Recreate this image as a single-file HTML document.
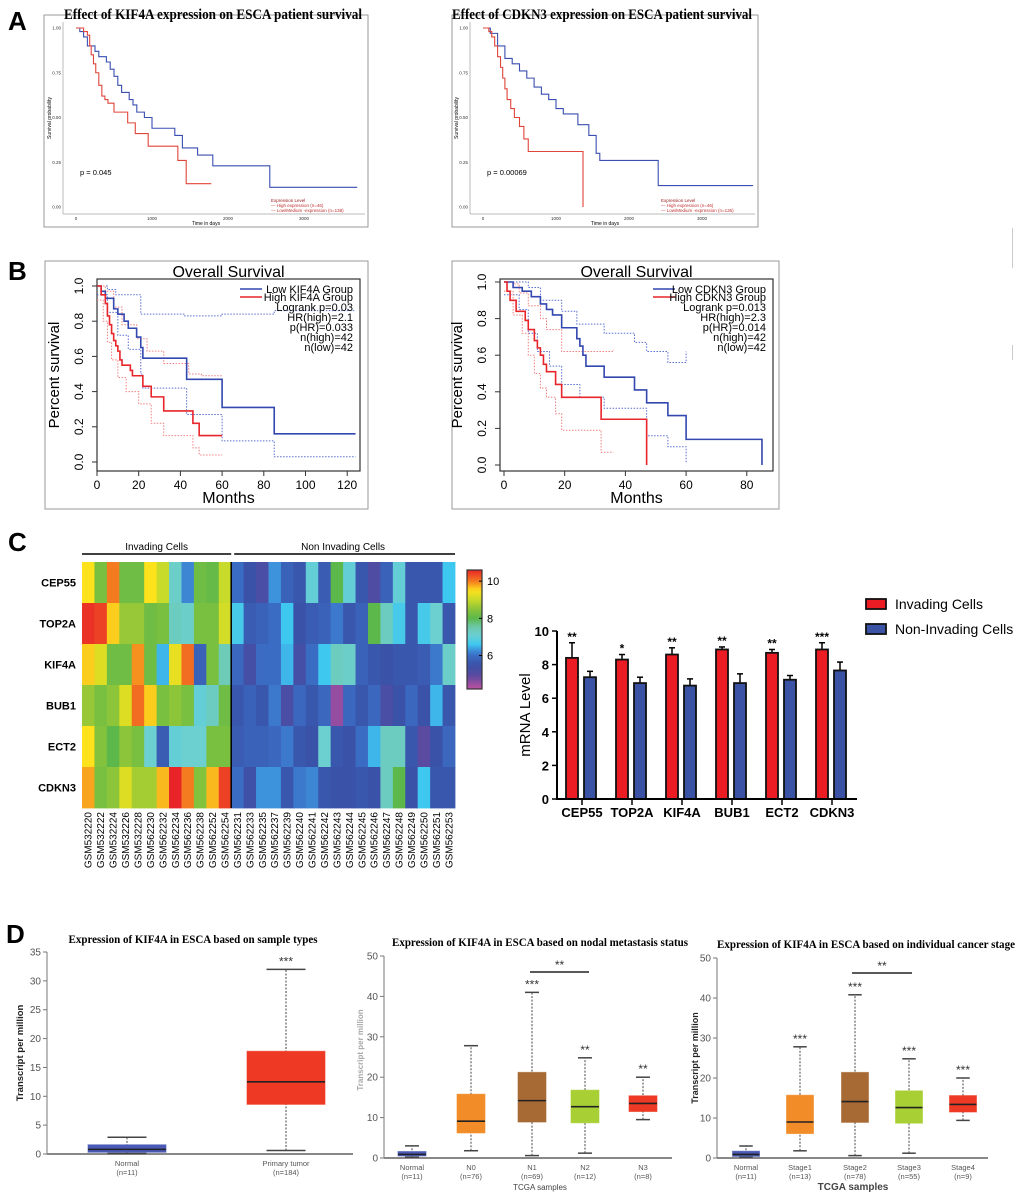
<!DOCTYPE html>
<html><head><meta charset="utf-8"><style>
html,body{margin:0;padding:0;background:#fff;}
svg{display:block;font-family:"Liberation Sans",sans-serif;}
</style></head><body>
<svg id="fig" width="1020" height="1198" viewBox="0 0 1020 1198" xmlns="http://www.w3.org/2000/svg">
<defs>
<linearGradient id="cbar" x1="0" y1="1" x2="0" y2="0"></linearGradient>
</defs>
<text x="8" y="30" font-size="26" font-weight="bold">A</text>
<text x="8" y="280" font-size="26" font-weight="bold">B</text>
<text x="8" y="551" font-size="26" font-weight="bold">C</text>
<text x="6" y="943" font-size="26" font-weight="bold">D</text>
<rect x="1012" y="228" width="1" height="40" fill="#ccc"/>
<rect x="1012" y="345" width="1" height="15" fill="#ccc"/>
</svg>
<script>
// ---------- DATA ----------
const aKifHigh=[[0,1],[100,.98],[150,.96],[180,.9],[200,.85],[230,.8],[260,.75],[300,.68],[340,.62],[380,.6],[420,.58],[500,.53],[680,.47],[780,.41],[950,.34],[1340,.26],[1450,.13],[1780,.13]];
const aKifLow=[[0,1],[50,.98],[100,.95],[150,.9],[250,.87],[300,.84],[400,.81],[450,.77],[500,.73],[550,.68],[600,.64],[700,.6],[750,.57],[800,.53],[900,.5],[1000,.44],[1300,.4],[1400,.33],[1600,.29],[1800,.23],[2550,.11],[3700,.11]];
const aCdkHigh=[[0,1],[80,.98],[120,.95],[160,.9],[200,.84],[240,.78],[270,.72],[300,.66],[330,.6],[380,.55],[430,.5],[500,.45],[560,.38],[620,.31],[1370,0]];
const aCdkLow=[[0,1],[100,.97],[200,.9],[300,.83],[400,.8],[500,.76],[600,.72],[700,.67],[800,.63],[900,.6],[1000,.55],[1100,.52],[1300,.46],[1450,.4],[1550,.3],[1600,.26],[2400,.12],[3700,.12]];
const aXTicks=[0,1000,2000,3000];
const aYTicks=[0,0.25,0.5,0.75,1];
const bKifLow=[[0,1],[2,.97],[4,.93],[8,.87],[10,.84],[13,.8],[15,.76],[19,.71],[21,.65],[22,.59],[43,.47],[60,.31],[85,.16],[124,.16]];
const bKifHigh=[[0,1],[2,.95],[4,.9],[5,.83],[6,.78],[7,.73],[8,.69],[9,.66],[10,.63],[11,.58],[12,.55],[16,.52],[17,.49],[22,.43],[26,.37],[32,.29],[46,.22],[49,.15],[60,.15]];
const bKifLowUp=[[0,1],[5,.98],[9,.95],[21,.84],[42,.83],[60,.84],[85,.86],[124,.86]];
const bKifLowLo=[[0,.95],[5,.85],[10,.72],[15,.64],[21,.5],[22,.42],[43,.27],[60,.12],[85,.03],[124,.03]];
const bKifHighUp=[[0,1],[4,.97],[8,.88],[12,.78],[19,.7],[24,.63],[32,.56],[44,.5],[50,.49],[60,.49]];
const bKifHighLo=[[0,.92],[3,.8],[5,.68],[7,.58],[10,.48],[14,.4],[20,.33],[26,.22],[32,.15],[46,.08],[49,.04],[60,.04]];
const bCdkLow=[[0,1],[3,.97],[6,.95],[9,.92],[12,.88],[14,.85],[16,.82],[19,.75],[24,.69],[25,.65],[26,.6],[27,.54],[33,.48],[43,.41],[47,.34],[54,.27],[60,.14],[85,0]];
const bCdkHigh=[[0,1],[1,.95],[2,.9],[4,.84],[7,.79],[8,.74],[10,.68],[11,.64],[12,.6],[13,.55],[14,.51],[17,.44],[19,.37],[32,.25],[47,0]];
const bCdkLowUp=[[0,1],[3,1],[8,.97],[12,.9],[19,.84],[24,.77],[33,.72],[43,.67],[47,.62],[54,.56],[60,.62]];
const bCdkLowLo=[[0,.93],[5,.85],[8,.72],[11,.62],[15,.54],[19,.44],[25,.37],[33,.31],[47,.16],[54,.1],[60,.01]];
const bCdkHighUp=[[0,1],[3,.99],[5,.94],[8,.87],[12,.8],[14,.74],[19,.62],[36,.63]];
const bCdkHighLo=[[0,.95],[3,.82],[6,.72],[8,.6],[10,.5],[12,.42],[14,.37],[17,.28],[19,.19],[32,.07],[36,.07]];
const bYTicks=[0,0.2,0.4,0.6,0.8,1.0];
const bXTicksKif=[0,20,40,60,80,100,120];
const bXTicksCdk=[0,20,40,60,80];
const hmGenes=["CEP55","TOP2A","KIF4A","BUB1","ECT2","CDKN3"];
const hmSamples=["GSM532220","GSM532222","GSM532224","GSM532226","GSM532228","GSM562230","GSM562232","GSM562234","GSM562236","GSM562238","GSM562252","GSM562254","GSM562231","GSM562233","GSM562235","GSM562237","GSM562239","GSM562240","GSM562241","GSM562242","GSM562243","GSM562244","GSM562245","GSM562246","GSM562247","GSM562248","GSM562249","GSM562250","GSM562251","GSM562253"];
const hmValues=[
[9.5,8.3,10,8.2,8.2,9.5,9,7.2,6.2,8.2,8.1,9,6.0,5.5,5.2,6.3,5.8,5.6,7.0,5.7,8.0,7.0,5.6,5.1,5.8,7.0,5.6,5.6,5.6,6.6],
[10.5,10.4,9.6,8.6,8.6,8.2,8.3,7.3,7.2,8.3,8.3,9.1,6.7,5.7,5.8,6.0,6.6,5.5,5.7,5.8,6.1,5.6,5.8,8.0,7.3,6.7,5.6,6.7,7.1,5.6],
[9.6,9.2,8.2,8.2,9.9,8.2,6.5,9.3,10.1,5.8,8.3,7.4,5.9,5.3,6.0,6.0,6.5,5.3,6.0,6.6,7.3,7.2,5.8,5.6,5.5,5.6,5.6,5.7,6.1,7.2],
[8.6,8.3,8.5,9.2,10.1,9.6,8.3,8.5,8.3,7.0,7.3,8.2,5.6,5.8,5.6,6.1,5.2,5.9,5.6,5.9,4.5,5.9,5.6,5.9,5.2,5.5,5.9,5.5,6.5,5.6],
[9.5,8.4,8.0,8.5,8.3,7.1,5.7,7.0,7.1,7.1,8.3,8.3,5.7,5.8,5.8,5.9,6.1,5.6,5.5,7.1,5.6,5.5,6.0,6.5,7.3,7.3,5.6,4.9,5.5,5.9],
[9.8,8.3,8.5,9.2,8.7,8.7,9.7,10.6,10.0,8.4,9.7,10.4,6.0,5.4,6.3,6.3,5.6,6.1,6.2,5.6,5.5,5.5,5.6,5.5,7.3,8.0,5.5,6.6,5.6,5.6]];
const hmInvadingCount=12;
const cbarTicks=[6,8,10];
const barGenes=["CEP55","TOP2A","KIF4A","BUB1","ECT2","CDKN3"];
const barInv=[8.4,8.3,8.6,8.9,8.7,8.9];
const barInvErr=[9.3,8.6,9.0,9.05,8.9,9.3];
const barNon=[7.25,6.9,6.75,6.9,7.1,7.65];
const barNonErr=[7.6,7.25,7.15,7.45,7.35,8.15];
const barStars=["**","*","**","**","**","***"];
const barYTicks=[0,2,4,6,8,10];
const d1Cats=["Normal","Primary tumor"];
const d1N=["(n=11)","(n=184)"];
const d1Stats=[[0.1,0.3,0.8,1.6,2.9],[0.6,8.6,12.5,17.8,32]];
const d1Stars=["","***"];
const d1Ticks=[0,5,10,15,20,25,30,35];
const d2Cats=["Normal","N0","N1","N2","N3"];
const d2N=["(n=11)","(n=76)","(n=69)","(n=12)","(n=8)"];
const d2Stats=[[0.2,0.5,0.9,1.6,3.0],[1.8,6.2,9.1,15.8,27.8],[0.6,8.9,14.2,21.2,41],[1.2,8.7,12.7,16.8,24.8],[9.5,11.5,13.5,15.4,20]];
const d2Stars=["","","***","**","**"];
const d3Cats=["Normal","Stage1","Stage2","Stage3","Stage4"];
const d3N=["(n=11)","(n=13)","(n=78)","(n=55)","(n=9)"];
const d3Stats=[[0.2,0.4,0.9,1.7,3.0],[1.8,6.1,9.0,15.7,27.8],[0.6,8.9,14.1,21.4,40.8],[1.2,8.7,12.6,16.8,24.8],[9.4,11.5,13.4,15.6,20]];
const d3Stars=["","***","***","***","***"];
const dTicks50=[0,10,20,30,40,50];

// ---------- HELPERS ----------
const NS='http://www.w3.org/2000/svg';
const svg=document.getElementById('fig');
function el(tag,attrs,name,parent){
  const e=document.createElementNS(NS,tag);
  for(const k in attrs)e.setAttribute(k,attrs[k]);
  
  
  (parent||svg).appendChild(e);return e;
}
function tx(x,y,s,attrs,name){const a=Object.assign({x:x,y:y},attrs||{});const e=el('text',a,name);e.textContent=s;return e;}
function line(x1,y1,x2,y2,attrs,name){return el('line',Object.assign({x1,y1,x2,y2},attrs),name);}
function lin(d0,d1,r0,r1){return v=>r0+(v-d0)*(r1-r0)/(d1-d0);}
function stepD(pts,sx,sy){let d='M'+sx(pts[0][0])+' '+sy(pts[0][1]);for(let i=1;i<pts.length;i++){d+=' H'+sx(pts[i][0])+' V'+sy(pts[i][1]);}return d;}

// ---------- PANEL A ----------
function panelA(cfg){
  el('rect',{x:cfg.bx,y:15,width:cfg.bw,height:212,fill:'none',stroke:'#999','stroke-width':1},'km-frame');
  tx(cfg.tc,19,cfg.title,{'font-family':'Liberation Serif, serif','font-size':15,'font-weight':'bold','text-anchor':'middle',textLength:cfg.tw,lengthAdjust:'spacingAndGlyphs'},'chart-title');
  const sx=lin(0,1000,cfg.x0,cfg.x0+cfg.k), sy=lin(0,1,207,28);
  line(cfg.ax,22,cfg.ax,214,{stroke:'#bbb'},'y-axis');
  line(cfg.ax,214,cfg.bx+cfg.bw-3,214,{stroke:'#bbb'},'x-axis');
  aYTicks.forEach(t=>{tx(cfg.ax-2,sy(t)+1.5,t.toFixed(2),{'font-size':4.5,'text-anchor':'end',fill:'#333'},'y-tick-label');});
  aXTicks.forEach(t=>{tx(sx(t),220,String(t),{'font-size':4.5,'text-anchor':'middle',fill:'#333'},'x-tick-label');});
  tx(cfg.bx+cfg.bw/2,225,'Time in days',{'font-size':5,'text-anchor':'middle'},'x-axis-title');
  tx(0,0,'Survival probability',{'font-size':5,'text-anchor':'middle',transform:`translate(${cfg.ax-12},118) rotate(-90)`},'y-axis-title');
  el('path',{d:stepD(cfg.low,sx,sy),fill:'none',stroke:'#3a4fb0','stroke-width':1.1},'low-expression-curve');
  el('path',{d:stepD(cfg.high,sx,sy),fill:'none',stroke:'#e0453a','stroke-width':1.1},'high-expression-curve');
  tx(cfg.ax+17,175,cfg.p,{'font-size':7.5},'p-value');
  const lx=cfg.bx+cfg.bw-97;
  tx(lx,202,'Expression Level',{'font-size':4.5,fill:'#a02020'},'legend-title');
  tx(lx,207,'— High expression (n=46)',{'font-size':4.5,fill:'#c03030'},'legend-entry-high');
  tx(lx,212,'— Low/Medium -expression (n='+cfg.nlow+')',{'font-size':4.5,fill:'#c03030'},'legend-entry-low');
}
panelA({bx:44,bw:324,ax:63,x0:76,k:76,tc:213,tw:298,title:'Effect of KIF4A expression on ESCA patient survival',low:aKifLow,high:aKifHigh,p:'p = 0.045',nlow:138});
panelA({bx:452,bw:306,ax:470,x0:483,k:73,tc:602,tw:300,title:'Effect of CDKN3 expression on ESCA patient survival',low:aCdkLow,high:aCdkHigh,p:'p = 0.00069',nlow:136});

// ---------- PANEL B ----------
function panelB(cfg){
  el('rect',{x:cfg.bx,y:261,width:cfg.bw,height:248,fill:'none',stroke:'#999','stroke-width':1},'km-outer-frame');
  el('rect',{x:cfg.px,y:279,width:cfg.pw,height:192,fill:'none',stroke:'#333','stroke-width':1.2},'plot-area');
  const sx=lin(0,20,cfg.x0,cfg.x0+cfg.k), sy=lin(0,1,cfg.y0,cfg.y1);
  tx(cfg.px+cfg.pw/2,277,'Overall Survival',{'font-size':16,'text-anchor':'middle'},'chart-title');
  bYTicks.forEach(t=>{
    line(cfg.px,sy(t),cfg.px-5,sy(t),{stroke:'#333'},'y-tick');
    tx(0,0,t.toFixed(1),{'font-size':12,'text-anchor':'middle',transform:`translate(${cfg.px-14},${sy(t)}) rotate(-90)`},'y-tick-label');
  });
  cfg.xt.forEach(t=>{
    line(sx(t),471,sx(t),476,{stroke:'#333'},'x-tick');
    tx(sx(t),489,String(t),{'font-size':12,'text-anchor':'middle'},'x-tick-label');
  });
  tx(cfg.px+cfg.pw/2,503,'Months',{'font-size':16,'text-anchor':'middle'},'x-axis-title');
  tx(0,0,'Percent survival',{'font-size':15,'text-anchor':'middle',transform:`translate(${cfg.px-38},375) rotate(-90)`},'y-axis-title');
  [[cfg.lowUp,'#5a6fd0','low-ci-upper'],[cfg.lowLo,'#5a6fd0','low-ci-lower'],[cfg.highUp,'#f08080','high-ci-upper'],[cfg.highLo,'#f08080','high-ci-lower']].forEach(c=>{
    el('path',{d:stepD(c[0],sx,sy),fill:'none',stroke:c[1],'stroke-width':1,'stroke-dasharray':'1.5,1.5'},c[2]);
  });
  el('path',{d:stepD(cfg.low,sx,sy),fill:'none',stroke:'#3347b0','stroke-width':1.6},'low-group-curve');
  el('path',{d:stepD(cfg.high,sx,sy),fill:'none',stroke:'#e8252a','stroke-width':1.6},'high-group-curve');
  const lx=cfg.px+cfg.pw-120, rx=cfg.px+cfg.pw-7;
  line(lx,289,lx+22,289,{stroke:'#3347b0','stroke-width':1.5},'legend-line-low');
  line(lx,297,lx+22,297,{stroke:'#e8252a','stroke-width':1.5},'legend-line-high');
  tx(rx,293,'Low '+cfg.g+' Group',{'font-size':11,'text-anchor':'end'},'legend-entry-low');
  tx(rx,301,'High '+cfg.g+' Group',{'font-size':11,'text-anchor':'end'},'legend-entry-high');
  cfg.stats.forEach((s,i)=>{tx(rx,311+i*10,s,{'font-size':11,'text-anchor':'end'},'stat-text');});
}
panelB({bx:45,bw:323,px:97,pw:263,x0:97,k:41.7,y0:462,y1:286,xt:bXTicksKif,g:'KIF4A',low:bKifLow,high:bKifHigh,lowUp:bKifLowUp,lowLo:bKifLowLo,highUp:bKifHighUp,highLo:bKifHighLo,stats:['Logrank p=0.03','HR(high)=2.1','p(HR)=0.033','n(high)=42','n(low)=42']});
panelB({bx:452,bw:327,px:500,pw:273,x0:504,k:60.7,y0:465,y1:282,xt:bXTicksCdk,g:'CDKN3',low:bCdkLow,high:bCdkHigh,lowUp:bCdkLowUp,lowLo:bCdkLowLo,highUp:bCdkHighUp,highLo:bCdkHighLo,stats:['Logrank p=0.013','HR(high)=2.3','p(HR)=0.014','n(high)=42','n(low)=42']});

// ---------- PANEL C HEATMAP ----------
const cmap=[[4.2,[192,80,160]],[4.9,[90,74,160]],[5.5,[58,82,168]],[6.0,[59,108,196]],[6.3,[61,147,220]],[6.6,[62,200,240]],[7.1,[108,207,208]],[7.5,[109,201,176]],[8.0,[92,184,74]],[8.5,[140,196,58]],[9.0,[200,218,42]],[9.5,[253,226,28]],[10.0,[244,123,32]],[10.6,[232,36,40]]];
function color(v){
  if(v<=cmap[0][0])return 'rgb('+cmap[0][1]+')';
  for(let i=1;i<cmap.length;i++){if(v<=cmap[i][0]){const a=cmap[i-1],b=cmap[i],t=(v-a[0])/(b[0]-a[0]);return 'rgb('+a[1].map((c,j)=>Math.round(c+(b[1][j]-c)*t)).join(',')+')';}}
  return 'rgb('+cmap[cmap.length-1][1]+')';
}
const hmX0=82,hmY0=562,cw=373/hmSamples.length,ch=41;
hmValues.forEach((row,r)=>{
  tx(76,hmY0+r*ch+ch/2+4,hmGenes[r],{'font-size':11,'font-weight':'bold','text-anchor':'end'},'heatmap-row-label');
  row.forEach((v,c)=>{el('rect',{x:hmX0+c*cw,y:hmY0+r*ch,width:cw+0.4,height:ch+0.4,fill:color(v)},'heatmap-cell');});
});
hmSamples.forEach((s,c)=>{tx(0,0,s,{'font-size':10,'text-anchor':'end',transform:`translate(${hmX0+c*cw+cw/2+3.5},812) rotate(-90)`},'heatmap-column-label');});
const divX=hmX0+hmInvadingCount*cw;
line(divX,562,divX,808,{stroke:'#000','stroke-width':1.5},'group-divider');
line(hmX0,554,divX,554,{stroke:'#000','stroke-width':1.5},'invading-bracket');
line(divX+3,554,455,554,{stroke:'#000','stroke-width':1.5},'non-invading-bracket');
tx((hmX0+divX)/2,550,'Invading Cells',{'font-size':10,'text-anchor':'middle'},'invading-group-label');
tx((divX+455)/2,550,'Non Invading Cells',{'font-size':10,'text-anchor':'middle'},'non-invading-group-label');
const gr=document.getElementById('cbar');
for(let v=4.2;v<=10.61;v+=0.2){const st=document.createElementNS(NS,'stop');st.setAttribute('offset',((v-4.2)/6.4).toFixed(3));st.setAttribute('stop-color',color(v));gr.appendChild(st);}
const cby=lin(4.2,10.6,689,570);
el('rect',{x:467,y:570,width:15,height:119,fill:'url(#cbar)',stroke:'#333','stroke-width':1.2},'colorbar');
cbarTicks.forEach(t=>{line(479,cby(t),482,cby(t),{stroke:'#000'},'colorbar-tick');tx(487,cby(t)+4,String(t),{'font-size':11},'colorbar-tick-label');});

// ---------- PANEL C BARS ----------
const byS=lin(0,10,799,631);
const bandX=i=>557+50*(i+0.5);
barYTicks.forEach(t=>{line(552,byS(t),557,byS(t),{stroke:'#000','stroke-width':1.5},'y-tick');tx(549,byS(t)+5,String(t),{'font-size':13,'font-weight':'bold','text-anchor':'end'},'y-tick-label');});
tx(0,0,'mRNA Level',{'font-size':15,'text-anchor':'middle',transform:'translate(530,715) rotate(-90)'},'y-axis-title');
barGenes.forEach((g,i)=>{
  const c=bandX(i);
  line(c,799,c,805,{stroke:'#000','stroke-width':1.5},'x-tick');
  tx(c,817,g,{'font-size':13,'font-weight':'bold','text-anchor':'middle'},'x-tick-label');
  line(c-10,byS(barInv[i]),c-10,byS(barInvErr[i]),{stroke:'#000','stroke-width':1.5},'error-bar');
  line(c-13,byS(barInvErr[i]),c-7,byS(barInvErr[i]),{stroke:'#000','stroke-width':1.5},'error-cap');
  line(c+8,byS(barNon[i]),c+8,byS(barNonErr[i]),{stroke:'#000','stroke-width':1.5},'error-bar');
  line(c+5,byS(barNonErr[i]),c+11,byS(barNonErr[i]),{stroke:'#000','stroke-width':1.5},'error-cap');
  el('rect',{x:c-16,y:byS(barInv[i]),width:12,height:byS(0)-byS(barInv[i]),fill:'#ec1c24',stroke:'#111','stroke-width':1.8},'bar-invading-'+g.toLowerCase());
  el('rect',{x:c+2,y:byS(barNon[i]),width:12,height:byS(0)-byS(barNon[i]),fill:'#3a53a4',stroke:'#111','stroke-width':1.8},'bar-non-invading-'+g.toLowerCase());
  tx(c-10,byS(barInvErr[i])-2,barStars[i],{'font-size':12,'font-weight':'bold','text-anchor':'middle'},'significance-stars');
});
line(557,631,557,800,{stroke:'#000','stroke-width':2},'y-axis');
line(556,799,857,799,{stroke:'#000','stroke-width':2},'x-axis');
el('rect',{x:866,y:599,width:20,height:10,fill:'#ec1c24',stroke:'#111','stroke-width':1.8},'legend-swatch-invading');
el('rect',{x:866,y:624,width:20,height:10,fill:'#3a53a4',stroke:'#111','stroke-width':1.8},'legend-swatch-non-invading');
tx(895,609,'Invading Cells',{'font-size':14},'legend-entry-invading');
tx(895,634,'Non-Invading Cells',{'font-size':14},'legend-entry-non-invading');

// ---------- PANEL D ----------
const dColors=['#4a5ab5','#f28c28','#a86a34','#a8d035','#ee3a24'];
function boxPanel(cfg){
  const sy=lin(0,cfg.max,cfg.y0,cfg.ytop);
  tx(cfg.tc,cfg.ty,cfg.title,{'font-family':'Liberation Serif, serif','font-size':12,'font-weight':'bold','text-anchor':'middle',textLength:cfg.tw,lengthAdjust:'spacingAndGlyphs'},'chart-title');
  line(cfg.ax,cfg.ytop,cfg.ax,cfg.y0,{stroke:'#777','stroke-width':1},'y-axis');
  line(cfg.ax,cfg.y0,cfg.xend,cfg.y0,{stroke:'#888','stroke-width':2},'x-axis');
  cfg.ticks.forEach(t=>{line(cfg.ax-4,sy(t),cfg.ax,sy(t),{stroke:'#777'},'y-tick');tx(cfg.ax-6,sy(t)+3.5,String(t),{'font-size':10,'text-anchor':'end',fill:'#555'},'y-tick-label');});
  tx(0,0,'Transcript per million',{'font-size':cfg.yfs,'font-weight':'bold','text-anchor':'middle',fill:cfg.yfill,transform:`translate(${cfg.yx},${cfg.yc}) rotate(-90)`},'y-axis-title');
  cfg.stats.forEach((s,i)=>{
    const c=cfg.centers[i],w=cfg.bw,col=cfg.cols[i];
    line(c,sy(s[0]),c,sy(s[4]),{stroke:'#444','stroke-width':1,'stroke-dasharray':'2,1.5'},'whisker');
    line(c-w/4,sy(s[0]),c+w/4,sy(s[0]),{stroke:'#444','stroke-width':1.5},'whisker-cap-min');
    line(c-w/4,sy(s[4]),c+w/4,sy(s[4]),{stroke:'#444','stroke-width':1.5},'whisker-cap-max');
    el('rect',{x:c-w/2,y:sy(s[3]),width:w,height:sy(s[1])-sy(s[3]),fill:col,stroke:col,'stroke-opacity':0.6},'box-'+cfg.cats[i].toLowerCase().replace(' ','-'));
    line(c-w/2,sy(s[2]),c+w/2,sy(s[2]),{stroke:'#222','stroke-width':1.6},'median-line');
    if(cfg.stars[i])tx(c,sy(s[4])-4,cfg.stars[i],{'font-size':12,'text-anchor':'middle',fill:'#333'},'significance-stars');
    tx(c,cfg.y0+12,cfg.cats[i],{'font-size':7.5,'text-anchor':'middle',fill:'#555'},'x-tick-label');
    tx(c,cfg.y0+21,cfg.ns[i],{'font-size':7.5,'text-anchor':'middle',fill:'#555'},'x-tick-sample-size');
  });
  if(cfg.xlab)tx(cfg.xlc,1190,cfg.xlab,{'font-size':cfg.xlfs,'font-weight':cfg.xlw,'text-anchor':'middle',fill:'#444'},'x-axis-title');
  if(cfg.br){line(cfg.br[0],cfg.br[2],cfg.br[1],cfg.br[2],{stroke:'#222','stroke-width':1.5},'comparison-bracket');tx((cfg.br[0]+cfg.br[1])/2,cfg.br[2]-3,'**',{'font-size':12,'text-anchor':'middle',fill:'#333'},'bracket-stars');}
}
boxPanel({title:'Expression of KIF4A in ESCA based on sample types',tc:193,ty:943,tw:249,max:35,y0:1154,ytop:952,ax:47,xend:353,ticks:d1Ticks,yfs:9.5,yfill:'#222',yx:23,yc:1053,stats:d1Stats,centers:[127,286],bw:78,cols:[dColors[0],dColors[4]],stars:d1Stars,cats:d1Cats,ns:d1N});
boxPanel({title:'Expression of KIF4A in ESCA based on nodal metastasis status',tc:540,ty:946,tw:296,max:50,y0:1158,ytop:956,ax:384,xend:672,ticks:dTicks50,yfs:8,yfill:'#aaa',yx:363,yc:1050,stats:d2Stats,centers:[412,471,532,585,643],bw:28,cols:dColors,stars:d2Stars,cats:d2Cats,ns:d2N,xlab:'TCGA samples',xlc:540,xlfs:8,xlw:'normal',br:[530,589,972]});
boxPanel({title:'Expression of  KIF4A in ESCA based on individual cancer stage',tc:866,ty:948,tw:298,max:50,y0:1158,ytop:958,ax:717,xend:988,ticks:dTicks50,yfs:9,yfill:'#222',yx:698,yc:1058,stats:d3Stats,centers:[746,800,855,909,963],bw:27,cols:dColors,stars:d3Stars,cats:d3Cats,ns:d3N,xlab:'TCGA samples',xlc:853,xlfs:10,xlw:'bold',br:[852,912,973]});
</script>
</body></html>
